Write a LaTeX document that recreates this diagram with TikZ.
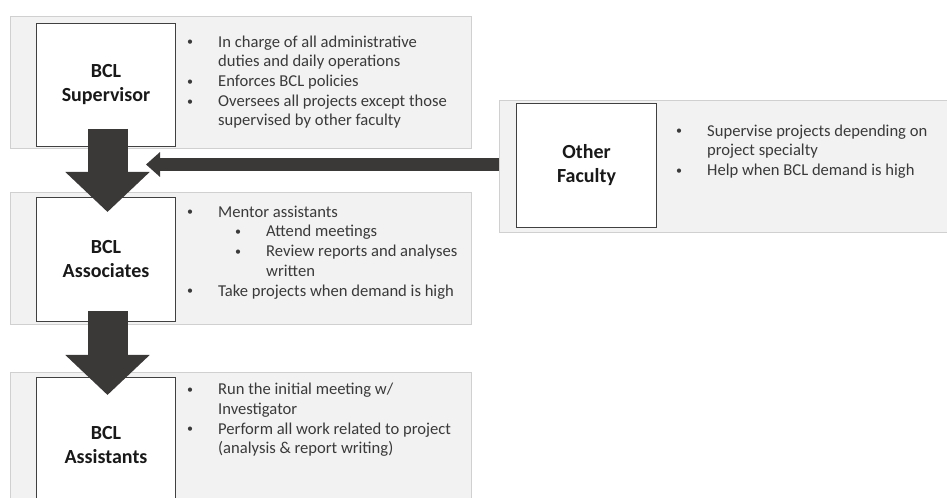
\documentclass[tikz,border=0pt]{standalone}
\usepackage{fontspec}
\setmainfont{Carlito}
\usetikzlibrary{arrows.meta}
\usetikzlibrary{calc}

\definecolor{panelgray}{HTML}{F2F2F2}
\definecolor{panelline}{HTML}{D0D0D0}
\definecolor{arrowgray}{HTML}{3B3838}
\definecolor{textgray}{HTML}{3A3A3A}

\newcommand{\smalldot}{\raisebox{1.2bp}{\fontsize{12bp}{12bp}\selectfont\textbullet}}
\newcommand{\bul}{\makebox[0pt][c]{\smalldot}\hspace*{28bp}}
\newcommand{\cont}{\hspace*{28bp}}
\newcommand{\subbul}{\hspace*{48bp}\makebox[0pt][c]{\smalldot}\hspace*{28bp}}
\newcommand{\subcont}{\hspace*{76bp}}
\newcommand{\firstline}{\rule{0pt}{12bp}}

\begin{document}
\begin{tikzpicture}[x=1bp,y=-1bp,
    panel/.style={draw=panelline, fill=panelgray, line width=1bp, anchor=north west, inner sep=0pt},
    rolebox/.style={draw=black!75, fill=white, line width=1bp, anchor=north west, inner sep=0pt,
        minimum width=139bp, minimum height=123bp, align=center, text=black!90,
        font=\fontsize{20bp}{24bp}\selectfont\bfseries},
    duties/.style={anchor=north west, inner sep=0pt, align=left, text=textgray,
        font=\fontsize{16.6bp}{19.7bp}\selectfont},
    downarrow/.style={arrowgray, line width=40bp, -{Triangle[width=82bp,length=40bp]}},
    sidearrow/.style={arrowgray, line width=13bp, -{Triangle[width=24bp,length=14bp]}}]
    \useasboundingbox (0,0) rectangle (947,498);
    \clip (0,0) rectangle (947,498);

    % grey panels
    \node[panel, minimum width=461bp, minimum height=132bp] (suppanel) at (10,16) {};
    \node[panel, minimum width=461bp, minimum height=132bp] (assocpanel) at (10,192) {};
    \node[panel, minimum width=461bp, minimum height=140bp] (asstpanel) at (10,372) {};
    \node[panel, minimum width=460bp, minimum height=132bp] (facpanel) at (499,100) {};

    % role boxes
    \node[rolebox] (sup) at (36,23) {BCL\\Supervisor};
    \node[rolebox, minimum height=124bp] (assoc) at (36,197) {BCL\\Associates};
    \node[rolebox, minimum height=135bp] (asst) at (36,377) {BCL\\Assistants};
    \node[rolebox, minimum width=140bp, minimum height=124bp] (fac) at (516,103) {Other\\Faculty};

    % duties
    \node[duties] (supduties) at (190,35) {\firstline\bul In charge of all administrative\\
        \cont duties and daily operations\\
        \bul Enforces BCL policies\\
        \bul Oversees all projects except those\\
        \cont supervised by other faculty};
    \node[duties] (assocduties) at (190,205) {\firstline\bul Mentor assistants\\
        \subbul Attend meetings\\
        \subbul Review reports and analyses\\
        \subcont written\\
        \bul Take projects when demand is high};
    \node[duties] (asstduties) at (190,382.5) {\firstline\bul Run the initial meeting w/\\
        \cont Investigator\\
        \bul Perform all work related to project\\
        \cont (analysis \& report writing)};
    \node[duties] (facduties) at (679,124) {\firstline\bul Supervise projects depending on\\
        \cont project specialty\\
        \bul Help when BCL demand is high};

    % arrows
    \coordinate (hin) at (146,164.5);
    \draw[downarrow] ([xshift=1.5bp,yshift=18bp]sup.south) -- ([xshift=1.5bp,yshift=-15bp]assoc.north);
    \draw[downarrow] ([xshift=1.5bp,yshift=11bp]assoc.south) -- ([xshift=1.5bp,yshift=-18bp]asst.north);
    \draw[sidearrow] (hin -| facpanel.west) -- (hin);
\end{tikzpicture}
\end{document}
